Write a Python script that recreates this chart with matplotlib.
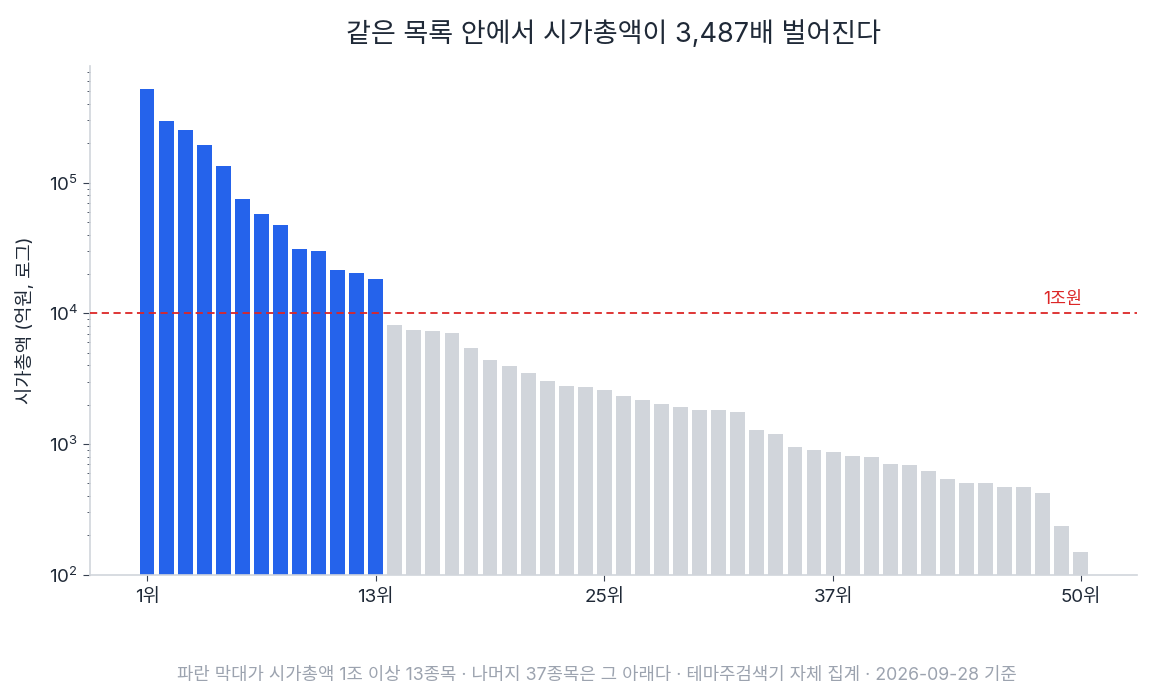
import matplotlib
matplotlib.use("Agg")
import matplotlib.pyplot as plt
import numpy as np

plt.rcParams['font.family'] = ['Inter', 'Noto Sans CJK KR', 'DejaVu Sans']
plt.rcParams['mathtext.fontset'] = 'custom'
plt.rcParams['mathtext.rm'] = 'Inter'
plt.rcParams['mathtext.it'] = 'Inter'

# 시가총액 (억원), 순위 1~50
ranks = list(range(1, 51))
caps = [523000, 297000, 253000, 195000, 134000, 75200, 57700, 47500, 31200, 30100,
        21500, 20400, 18400, 8170, 7480, 7350, 7100, 5450, 4410, 3970,
        3500, 3040, 2790, 2740, 2600, 2340, 2180, 2030, 1930, 1830,
        1830, 1760, 1285, 1197, 952, 903, 872, 813, 798, 706,
        694, 624, 542, 505, 505, 471, 471, 423, 237, 150]
threshold = 10000
tick_ranks = [1, 13, 25, 37, 50]
tick_labels = [f"{r}위" for r in tick_ranks]

blue = '#2563EB'
gray = '#D1D5DB'
red = '#DC2626'

colors = [blue if c >= threshold else gray for c in caps]

fig = plt.figure(figsize=(11.52, 7.0), dpi=100)
ax = fig.add_axes([0.078, 0.179, 0.909, 0.727])

ax.bar(ranks, caps, width=0.78, color=colors, zorder=2)
ax.set_yscale('log')
ax.set_ylim(100, max(caps) * 1.5)
ax.set_xlim(-2, 52.95)

ax.axhline(threshold, color=red, linestyle=(0, (4, 2.5)), linewidth=1.3, zorder=3)
ax.text(50.05, threshold * 1.1, "1조원", color=red, fontsize=12.5, ha='right', va='bottom')

ax.set_xticks(tick_ranks)
ax.set_xticklabels(tick_labels, fontsize=13.5, color='#1F2937')
ax.tick_params(axis='x', length=4, color='#374151', pad=6)
ax.tick_params(axis='y', which='major', length=5, color='#374151', labelsize=13.5, labelcolor='#1F2937')
ax.tick_params(axis='y', which='minor', length=2.5, color='#374151')

for s in ['top', 'right']:
    ax.spines[s].set_visible(False)
for s in ['left', 'bottom']:
    ax.spines[s].set_color('#D1D5DB')
    ax.spines[s].set_linewidth(1.2)

ax.set_ylabel("시가총액 (억원, 로그)", fontsize=13.5, color='#1F2937', labelpad=10)
ax.set_title("같은 목록 안에서 시가총액이 3,487배 벌어진다", fontsize=19.5, color='#1F2937', pad=17)

fig.text(0.518, 0.035, "파란 막대가 시가총액 1조 이상 13종목 · 나머지 37종목은 그 아래다 · 테마주검색기 자체 집계 · 2026-09-28 기준",
         fontsize=12.8, color='#9CA3AF', ha='center', va='center')

fig.savefig("out.png", dpi=100)
